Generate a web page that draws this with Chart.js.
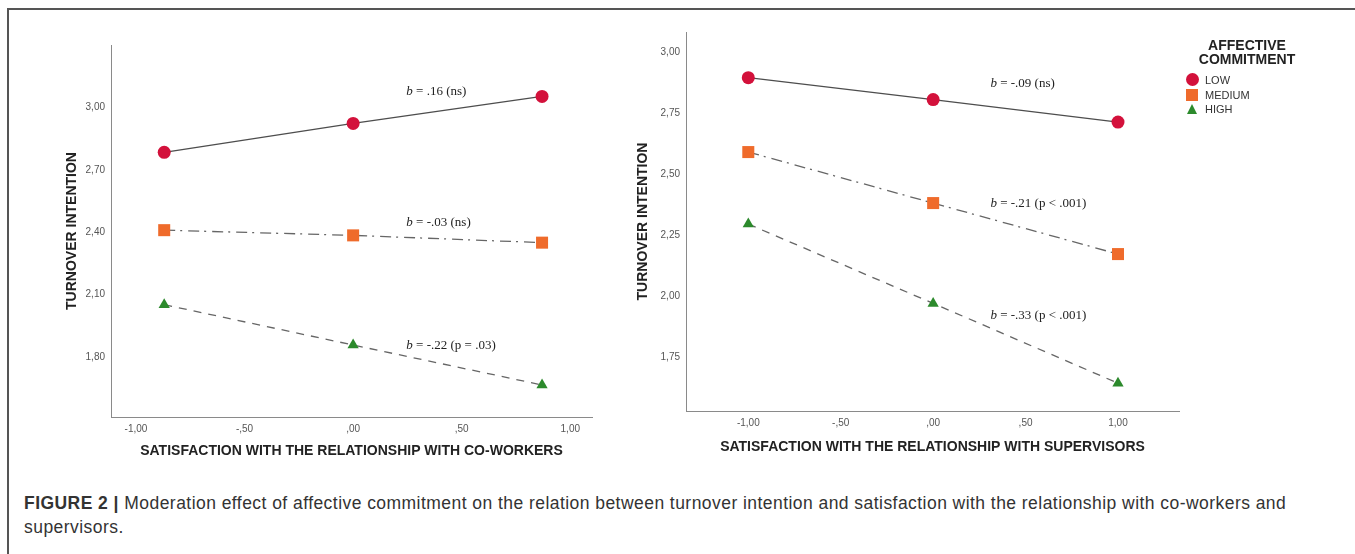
<!DOCTYPE html>
<html>
  <head>
    <meta charset="utf-8">
    <title>Figure 2 - Moderation effect</title>
    <script src="https://cdn.jsdelivr.net/npm/chart.js@4.4.1/dist/chart.umd.min.js"></script>
    <style>
      body { margin: 0; background: #fff; width: 1355px; height: 554px; overflow: hidden; position: relative; font-family: "Liberation Sans", Arial, sans-serif; }
      .frame { position: absolute; left: 7px; top: 8px; width: 1400px; height: 600px; border-top: 2px solid #555; border-left: 2px solid #555; }
      .box { position: absolute; top: 0; height: 470px; }
      #leftBox { left: 0; width: 620px; }
      #rightBox { left: 620px; width: 735px; }
      .legend { position: absolute; left: 1180px; top: 38px; width: 140px; color: #333; }
      .legend .ttl { font-weight: bold; font-size: 14px; line-height: 14px; text-align: center; width: 138px; margin-left: -2px; color: #222; }
      .legend .item { position: absolute; left: 0; font-size: 11px; height: 14px; line-height: 14px; }
      .legend .item span.txt { position: absolute; left: 25px; top: 0; white-space: nowrap; }
      .mk { position: absolute; }
      .caption { position: absolute; left: 24px; top: 491px; font-size: 17.5px; letter-spacing: 0.45px; line-height: 24px; color: #333; white-space: nowrap; }
    </style>
  </head>
  <body>
    <div class="frame"></div>
    <div class="box" id="leftBox"><canvas id="chart0"></canvas></div>
    <div class="box" id="rightBox"><canvas id="chart1"></canvas></div>
    <div class="legend" id="legend"></div>
    <div class="caption"><b>FIGURE 2 |</b> Moderation effect of affective commitment on the relation between turnover intention and satisfaction with the relationship with co-workers and<br>supervisors.</div>

    <script type="text/javascript">
      // values
      var levels = ['LOW', 'MEDIUM', 'HIGH'];
      var coworkerX = [-0.87, 0, 0.87];
      var coworkerLow = [2.784, 2.923, 3.053];
      var coworkerMedium = [2.41, 2.385, 2.35];
      var coworkerHigh = [2.052, 1.858, 1.666];
      var supervisorX = [-1, 0, 1];
      var supervisorLow = [2.895, 2.805, 2.713];
      var supervisorMedium = [2.59, 2.381, 2.172];
      var supervisorHigh = [2.295, 1.97, 1.643];

      var xTicks = [-1, -0.5, 0, 0.5, 1];
      var coworkerYTicks = [1.8, 2.1, 2.4, 2.7, 3.0];
      var supervisorYTicks = [1.75, 2.0, 2.25, 2.5, 2.75, 3.0];

      var coworkerNotes = ['= .16 (ns)', '= -.03 (ns)', '= -.22 (p = .03)'];
      var supervisorNotes = ['= -.09 (ns)', '= -.21 (p < .001)', '= -.33 (p < .001)'];

      var markerColors = ['#d3113b', '#ef6b2b', '#2c8a2c'];
      var markerStyles = ['circle', 'rect', 'triangle'];
      var markerRadius = [6.5, 8.5, 6.5];
      var lineDashes = [[], [11, 5, 2, 6], [8, 7]];
      var lineColors = ['#4d4d4d', '#666', '#666'];

      // ,50 style labels like SPSS output
      function fmt(v) {
        var s = Math.abs(v).toFixed(2).replace('.', ',');
        if (s.charAt(0) === '0') s = s.substring(1);
        return (v < 0 ? '-' : '') + s;
      }

      function makeDatasets(xs, series) {
        return series.map(function (ys, i) {
          return {
            label: levels[i],
            data: xs.map(function (x, j) { return { x: x, y: ys[j] }; }),
            borderColor: lineColors[i],
            borderWidth: 1.3,
            borderDash: lineDashes[i],
            pointStyle: markerStyles[i],
            pointRadius: markerRadius[i],
            pointHoverRadius: markerRadius[i],
            pointBackgroundColor: markerColors[i],
            pointBorderColor: markerColors[i],
            pointBorderWidth: 0,
            showLine: true,
            fill: false,
            tension: 0
          };
        });
      }

      // slope notes, placed in data units
      var notesPlugin = {
        id: 'notes',
        afterDatasetsDraw: function (chart, args, opts) {
          var ctx = chart.ctx;
          var sx = chart.scales.x, sy = chart.scales.y;
          ctx.save();
          ctx.fillStyle = '#222';
          ctx.textBaseline = 'middle';
          opts.items.forEach(function (it) {
            var px = sx.getPixelForValue(it.x);
            var py = sy.getPixelForValue(it.y);
            ctx.font = 'italic 13px "Liberation Serif", serif';
            ctx.fillText('b', px, py);
            var w = ctx.measureText('b ').width;
            ctx.font = '13px "Liberation Serif", serif';
            ctx.fillText(it.text, px + w, py);
          });
          ctx.restore();
        }
      };

      function axes(cfg) {
        return {
          x: {
            type: 'linear',
            min: cfg.xMin, max: cfg.xMax,
            afterBuildTicks: function (s) { s.ticks = xTicks.map(function (v) { return { value: v }; }); },
            afterFit: function (s) { s.height = cfg.xHeight; },
            grid: { display: false, drawTicks: false },
            border: { display: true, color: '#8a8a8a', width: 1 },
            ticks: { padding: 6, color: '#555', font: { size: 10, family: '"Liberation Sans", Arial' }, callback: fmt, maxRotation: 0 },
            title: { display: true, text: cfg.xTitle, color: '#222', font: { size: 14, weight: 'bold', family: '"Liberation Sans", Arial' }, padding: { top: 0, bottom: cfg.xTitlePad } }
          },
          y: {
            type: 'linear',
            min: cfg.yMin, max: cfg.yMax,
            afterBuildTicks: function (s) { s.ticks = cfg.yTicks.map(function (v) { return { value: v }; }); },
            afterFit: function (s) { s.width = cfg.yWidth; },
            grid: { display: false, drawTicks: false },
            border: { display: true, color: '#8a8a8a', width: 1 },
            ticks: { padding: 6, color: '#555', font: { size: 10, family: '"Liberation Sans", Arial' }, callback: fmt },
            title: { display: true, text: 'TURNOVER INTENTION', color: '#222', font: { size: 14, weight: 'bold', family: '"Liberation Sans", Arial' }, padding: { top: cfg.yTitlePad, bottom: 0 } }
          }
        };
      }

      var chart0 = new Chart(document.getElementById('chart0').getContext('2d'), {
        type: 'scatter',
        data: { datasets: makeDatasets(coworkerX, [coworkerLow, coworkerMedium, coworkerHigh]) },
        options: {
          responsive: true,
          maintainAspectRatio: false,
          animation: false,
          layout: { padding: { left: 0, top: 45, right: 28, bottom: 0 } },
          plugins: {
            legend: { display: false },
            tooltip: { enabled: false },
            notes: { items: [
              { x: 0.245, y: 3.077, text: coworkerNotes[0] },
              { x: 0.245, y: 2.448, text: coworkerNotes[1] },
              { x: 0.245, y: 1.853, text: coworkerNotes[2] }
            ] }
          },
          scales: axes({
            xMin: -1.115, xMax: 1.10, yMin: 1.512, yMax: 3.30,
            yTicks: coworkerYTicks, xHeight: 53, yWidth: 111,
            xTitle: 'SATISFACTION WITH THE RELATIONSHIP WITH CO-WORKERS',
            xTitlePad: 10.6, yTitlePad: 63.6
          })
        },
        plugins: [notesPlugin]
      });

      var chart1 = new Chart(document.getElementById('chart1').getContext('2d'), {
        type: 'scatter',
        data: { datasets: makeDatasets(supervisorX, [supervisorLow, supervisorMedium, supervisorHigh]) },
        options: {
          responsive: true,
          maintainAspectRatio: false,
          animation: false,
          layout: { padding: { left: 0, top: 32, right: 176, bottom: 0 } },
          plugins: {
            legend: { display: false },
            tooltip: { enabled: false },
            notes: { items: [
              { x: 0.31, y: 2.869, text: supervisorNotes[0] },
              { x: 0.31, y: 2.377, text: supervisorNotes[1] },
              { x: 0.31, y: 1.922, text: supervisorNotes[2] }
            ] }
          },
          scales: axes({
            xMin: -1.337, xMax: 1.33, yMin: 1.529, yMax: 3.082,
            yTicks: supervisorYTicks, xHeight: 59, yWidth: 66,
            xTitle: 'SATISFACTION WITH THE RELATIONSHIP WITH SUPERVISORS',
            xTitlePad: 14.6, yTitlePad: 14.6
          })
        },
        plugins: [notesPlugin]
      });

      // legend built from the same levels / colours
      var legend = document.getElementById('legend');
      legend.innerHTML = '<div class="ttl">AFFECTIVE<br>COMMITMENT</div>';
      levels.forEach(function (name, i) {
        var item = document.createElement('div');
        item.className = 'item';
        item.style.top = (35 + i * 14.5) + 'px';
        var mk = document.createElement('span');
        mk.className = 'mk';
        if (markerStyles[i] === 'circle') {
          mk.style.cssText = 'left:6px;top:0px;width:13px;height:13px;border-radius:50%;background:' + markerColors[i];
        } else if (markerStyles[i] === 'rect') {
          mk.style.cssText = 'left:6px;top:1px;width:12px;height:12px;background:' + markerColors[i];
        } else {
          mk.style.cssText = 'left:7px;top:2px;width:0;height:0;border-left:5.5px solid transparent;border-right:5.5px solid transparent;border-bottom:10px solid ' + markerColors[i];
        }
        var txt = document.createElement('span');
        txt.className = 'txt';
        txt.textContent = name;
        item.appendChild(mk);
        item.appendChild(txt);
        legend.appendChild(item);
      });
    </script>
  </body>
</html>
